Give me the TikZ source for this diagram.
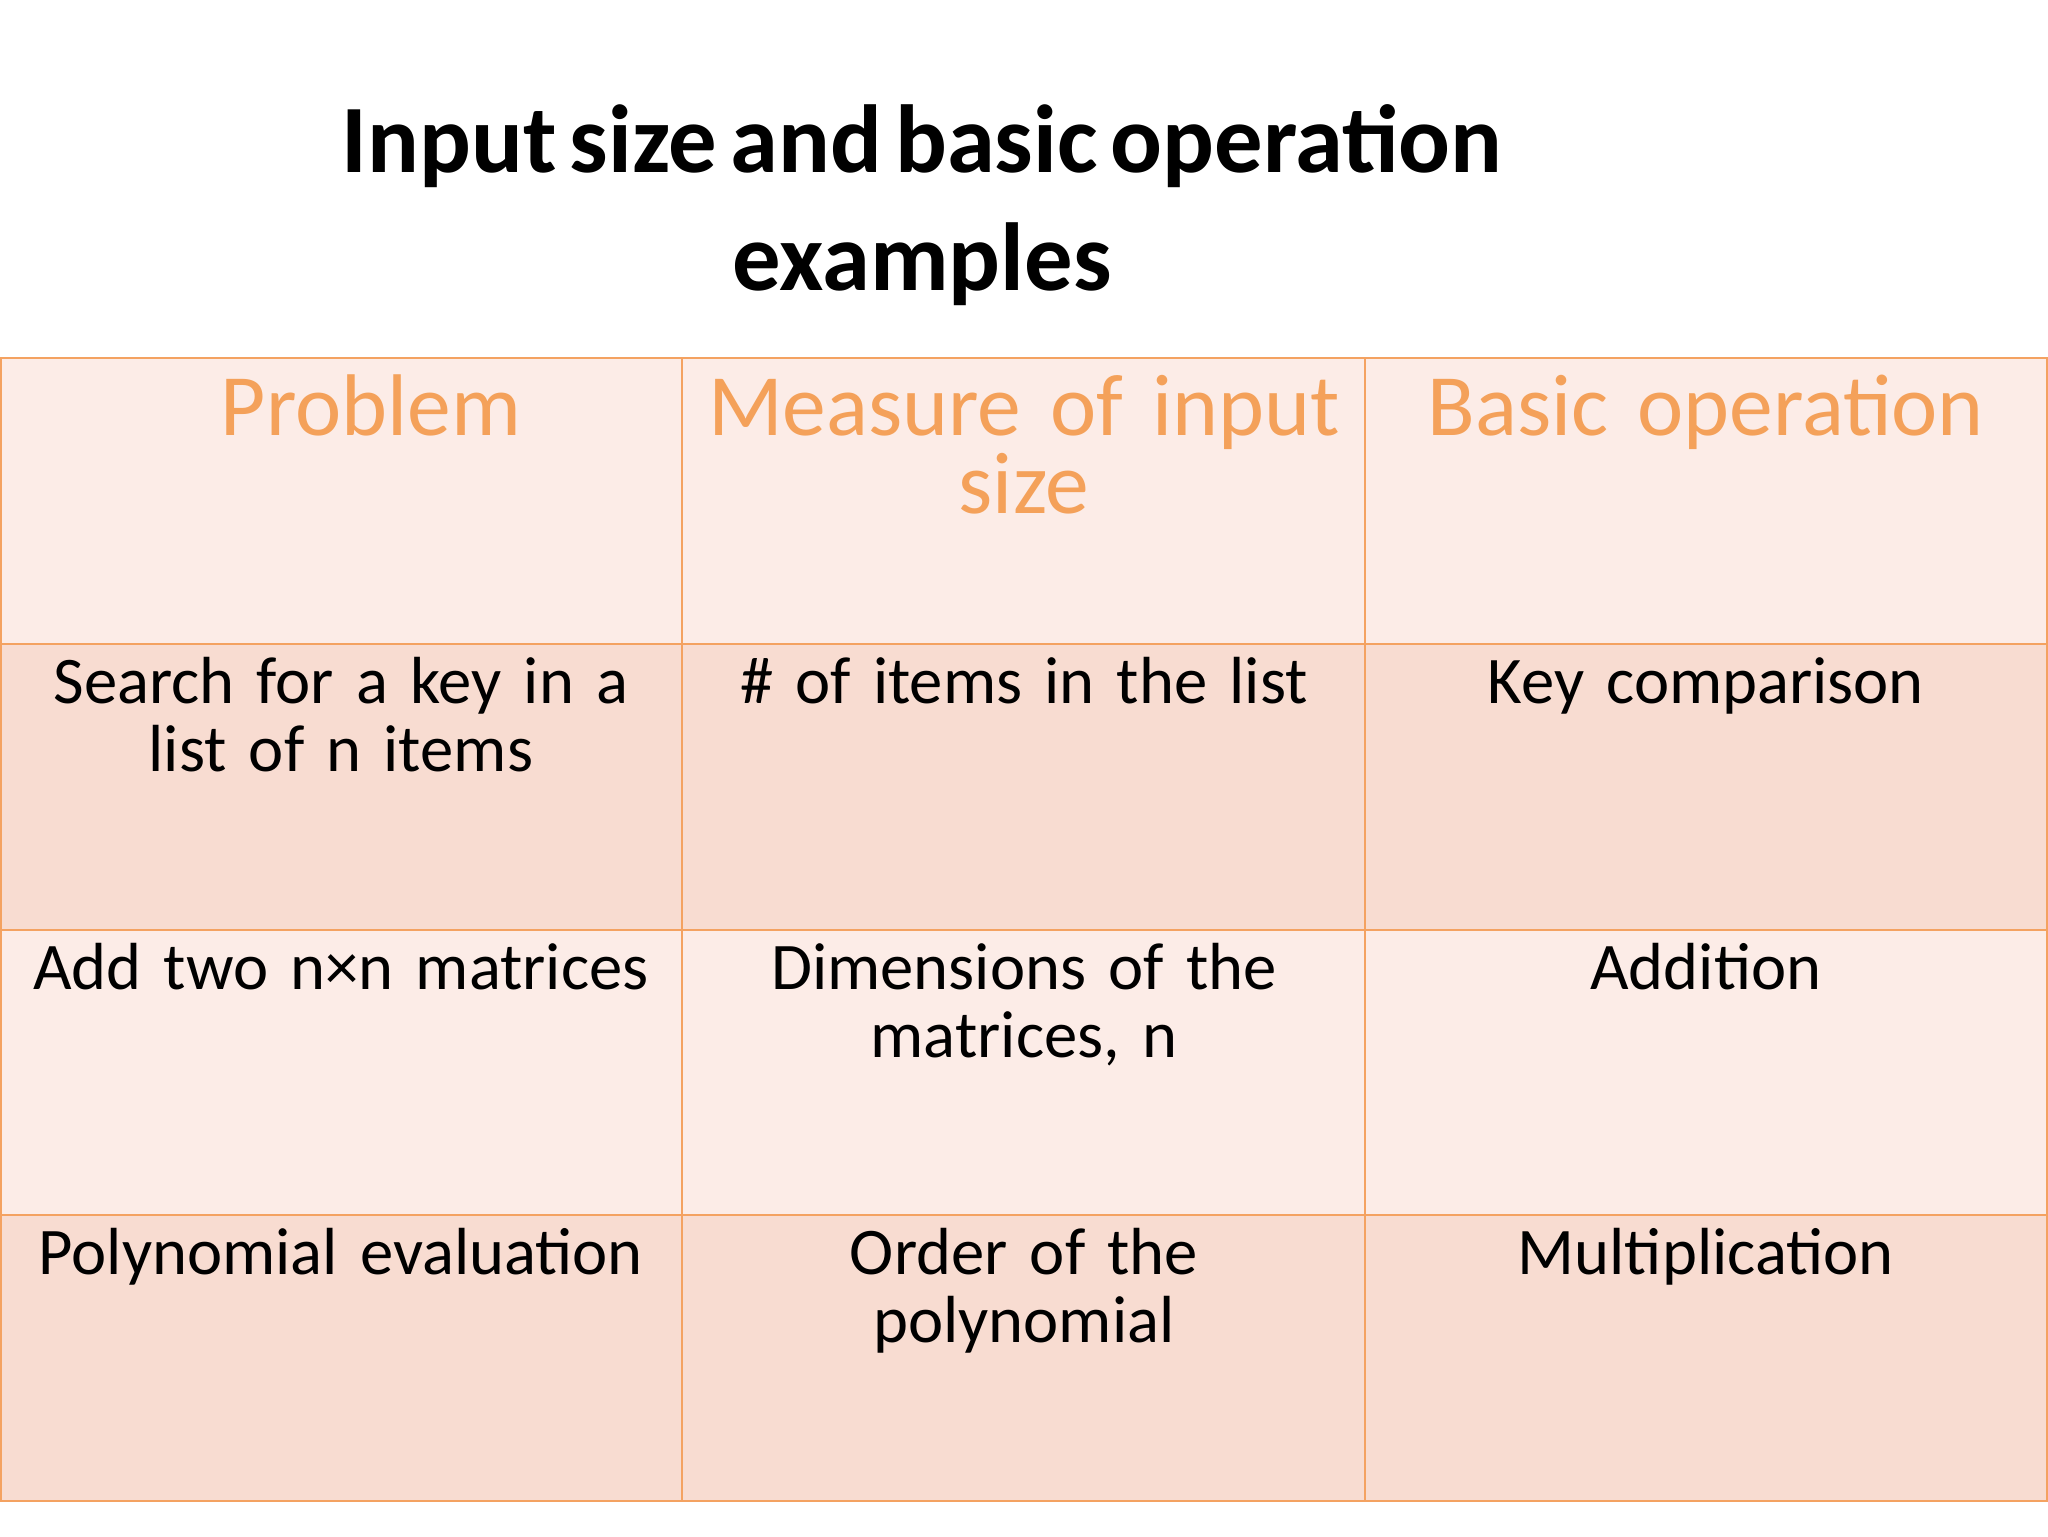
\documentclass[tikz,border=0pt]{standalone}
\usepackage{fontspec}
\setmainfont[WordSpace={0.6,0,0}]{Carlito}
\definecolor{hdr}{HTML}{FCECE7}
\definecolor{odd}{HTML}{F8DCD1}
\definecolor{evn}{HTML}{FCECE7}
\definecolor{ln}{HTML}{F4A261}
\definecolor{htx}{HTML}{F4A15A}
\begin{document}
\begin{tikzpicture}[x=1pt,y=-1pt,
  cell/.style={draw=ln,line width=1.5pt},
  htext/.style={anchor=north,align=center,text width=510pt,font=\fontsize{67}{60}\selectfont,text=htx,inner sep=0pt},
  btext/.style={anchor=north,align=center,text width=510pt,font=\fontsize{51}{52}\selectfont,inner sep=0pt}]
\useasboundingbox (0,0) rectangle (1568,1176);
\fill[white] (0,0) rectangle (1568,1176);
\node[font=\bfseries\fontsize{74}{90}\selectfont,align=center,anchor=north,inner sep=0pt] (title) at (706,80) {Input size and basic operation\\examples};
\fill[hdr] (0,274) rectangle (1568,493);
\fill[odd] (0,493) rectangle (1568,712);
\fill[evn] (0,712) rectangle (1568,930);
\fill[odd] (0,930) rectangle (1568,1149);
\foreach \y in {274,493,712,930,1149} \draw[cell] (0,\y) -- (1568,\y);
\foreach \x in {0.75,522,1045,1567} \draw[cell] (\x,274) -- (\x,1149);
\node[htext] (h1) at (284,287) {Problem};
\node[htext] (h2) at (784,287) {Measure of input\\size};
\node[htext] (h3) at (1306,287) {Basic operation};
\node[btext] (a1) at (261,503) {Search for a key in a\\list of n items};
\node[btext] (a2) at (784,503) {\# of items in the list};
\node[btext] (a3) at (1306,503) {Key comparison};
\node[btext] (b1) at (261,722) {Add two n×n matrices};
\node[btext] (b2) at (784,722) {Dimensions of the\\matrices, n};
\node[btext] (b3) at (1306,722) {Addition};
\node[btext] (c1) at (261,940) {Polynomial evaluation};
\node[btext] (c2) at (784,940) {Order of the\\polynomial};
\node[btext] (c3) at (1306,940) {Multiplication};
\end{tikzpicture}
\end{document}
